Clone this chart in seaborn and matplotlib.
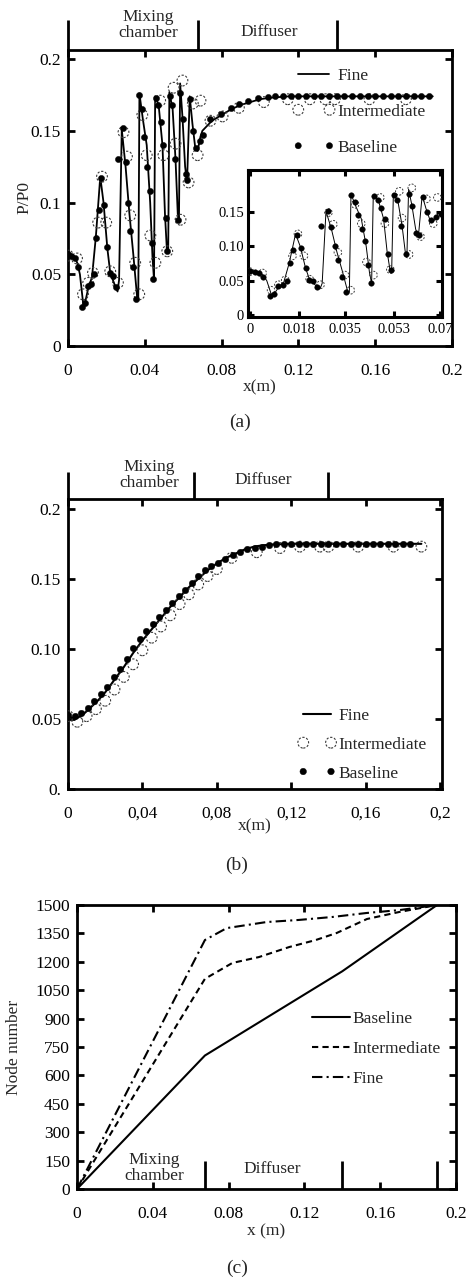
import matplotlib
matplotlib.use("Agg")
import matplotlib.pyplot as plt
import seaborn as sns

sns.set_theme(style="ticks")
plt.rcParams["font.family"] = ["Liberation Serif", "DejaVu Serif"]
plt.rcParams["axes.unicode_minus"] = False

# ---------------- (a) static pressure ratio, oscillating case ----------------
fine_a_x = [0.000, 0.003, 0.0048, 0.0062, 0.0082, 0.0105, 0.0125, 0.0145, 0.0168, 0.0185,
            0.0205, 0.022, 0.0245, 0.0258, 0.0266, 0.0280, 0.0300, 0.0320, 0.0340, 0.0360,
            0.0366, 0.0372, 0.0390, 0.0410, 0.0428, 0.0440, 0.0448, 0.0454, 0.0472, 0.0492,
            0.0505, 0.0515, 0.0522, 0.0528, 0.0545, 0.0560, 0.0572, 0.0578, 0.0584, 0.0596,
            0.0610, 0.0620, 0.0634, 0.0648, 0.0662, 0.0675, 0.0690, 0.0700, 0.0750, 0.0800,
            0.0850, 0.0900, 0.0950, 0.1000, 0.1050, 0.1100, 0.1150, 0.1200, 0.1900]
fine_a_y = [0.064, 0.063, 0.058, 0.050, 0.026, 0.040, 0.048, 0.076, 0.118, 0.100,
            0.068, 0.051, 0.042, 0.038, 0.046, 0.151, 0.125, 0.092, 0.064, 0.034,
            0.033, 0.176, 0.158, 0.140, 0.100, 0.062, 0.046, 0.174, 0.168, 0.140,
            0.092, 0.067, 0.068, 0.177, 0.165, 0.130, 0.091, 0.088, 0.183, 0.160,
            0.125, 0.114, 0.174, 0.155, 0.139, 0.136, 0.146, 0.150, 0.157, 0.161,
            0.165, 0.168, 0.170, 0.172, 0.173, 0.1735, 0.174, 0.174, 0.174]

int_a_x = [0.000, 0.0047, 0.0078, 0.0105, 0.013, 0.0157, 0.0177, 0.0199, 0.022, 0.026,
           0.0289, 0.0307, 0.0324, 0.035, 0.0371, 0.0387, 0.041, 0.0429, 0.0455, 0.048,
           0.0497, 0.0517, 0.055, 0.056, 0.0586, 0.0596, 0.0628, 0.065, 0.0675, 0.069,
           0.0742, 0.0805, 0.089, 0.102, 0.1145, 0.126, 0.134, 0.139, 0.157, 0.176]
int_a_y = [0.063, 0.061, 0.036, 0.044, 0.051, 0.086, 0.118, 0.086, 0.052, 0.044,
           0.149, 0.132, 0.091, 0.058, 0.036, 0.161, 0.133, 0.077, 0.058, 0.171,
           0.133, 0.066, 0.180, 0.141, 0.088, 0.185, 0.114, 0.169, 0.133, 0.171,
           0.157, 0.160, 0.166, 0.170, 0.172, 0.172, 0.172, 0.172, 0.172, 0.172]

base_a_x = [0.000, 0.0018, 0.0035, 0.0050, 0.0075, 0.0090, 0.0105, 0.0120, 0.0135, 0.0148,
            0.0160, 0.0172, 0.0188, 0.0205, 0.0218, 0.0232, 0.0248, 0.0262, 0.0287, 0.0300,
            0.0312, 0.0325, 0.0338, 0.0355, 0.0372, 0.0385, 0.0398, 0.0412, 0.0425, 0.0435,
            0.0445, 0.0458, 0.0470, 0.0482, 0.0496, 0.0508, 0.0518, 0.0530, 0.0543, 0.0556,
            0.0575, 0.0585, 0.0598, 0.0612, 0.0622, 0.0636, 0.0650, 0.0665, 0.0685, 0.0705,
            0.0738, 0.0795, 0.0850, 0.0890, 0.0937, 0.0990, 0.1040, 0.1080, 0.1120, 0.1160,
            0.1200, 0.1240, 0.1280, 0.1320, 0.1360, 0.1400, 0.1440, 0.1480, 0.1520, 0.1560,
            0.1600, 0.1640, 0.1680, 0.1720, 0.1760, 0.1800, 0.1840, 0.1880]
base_a_y = [0.064, 0.063, 0.061, 0.055, 0.027, 0.030, 0.042, 0.043, 0.050, 0.075,
            0.095, 0.117, 0.098, 0.069, 0.051, 0.049, 0.041, 0.130, 0.152, 0.128,
            0.100, 0.080, 0.055, 0.033, 0.175, 0.165, 0.146, 0.125, 0.108, 0.072,
            0.047, 0.173, 0.168, 0.156, 0.140, 0.089, 0.066, 0.174, 0.168, 0.130,
            0.088, 0.176, 0.158, 0.120, 0.116, 0.172, 0.150, 0.138, 0.143, 0.147,
            0.158, 0.162, 0.166, 0.169, 0.171, 0.173, 0.1735, 0.1745, 0.1745, 0.1745,
            0.1745, 0.1745, 0.1745, 0.1745, 0.1745, 0.1745, 0.1745, 0.1745, 0.1745, 0.1745,
            0.1745, 0.1745, 0.1745, 0.1745, 0.1745, 0.1745, 0.1745, 0.1745]

# ---------------- (b) static pressure ratio, steady case ----------------
fine_b_x = [0.000, 0.004, 0.008, 0.012, 0.016, 0.020, 0.025, 0.030, 0.035, 0.040,
            0.045, 0.050, 0.055, 0.060, 0.065, 0.070, 0.075, 0.080, 0.085, 0.090,
            0.095, 0.100, 0.105, 0.110, 0.120, 0.190]
fine_b_y = [0.052, 0.050, 0.053, 0.058, 0.063, 0.069, 0.078, 0.087, 0.097, 0.106,
            0.114, 0.122, 0.130, 0.137, 0.144, 0.150, 0.156, 0.161, 0.165, 0.168,
            0.171, 0.173, 0.174, 0.1745, 0.175, 0.175]

int_b_x = [0.000, 0.005, 0.010, 0.015, 0.020, 0.025, 0.030, 0.035, 0.040, 0.045,
           0.050, 0.055, 0.060, 0.065, 0.070, 0.075, 0.080, 0.088, 0.1015, 0.114,
           0.1247, 0.1355, 0.140, 0.156, 0.175, 0.190]
int_b_y = [0.052, 0.048, 0.052, 0.057, 0.063, 0.071, 0.080, 0.089, 0.099, 0.108,
           0.116, 0.124, 0.132, 0.139, 0.146, 0.152, 0.157, 0.165, 0.169, 0.172,
           0.173, 0.173, 0.173, 0.173, 0.173, 0.173]

base_b_x = [0.000, 0.0035, 0.007, 0.0105, 0.014, 0.0175, 0.021, 0.0245, 0.028, 0.0315,
            0.035, 0.0385, 0.042, 0.0455, 0.049, 0.0525, 0.056, 0.0595, 0.063, 0.0665,
            0.070, 0.0735, 0.077, 0.0805, 0.0845, 0.0885, 0.0925, 0.0965, 0.1005, 0.1045,
            0.108, 0.112, 0.116, 0.120, 0.124, 0.128, 0.132, 0.136, 0.140, 0.144,
            0.148, 0.152, 0.156, 0.160, 0.164, 0.168, 0.172, 0.176, 0.180, 0.184]
base_b_y = [0.053, 0.052, 0.054, 0.058, 0.063, 0.068, 0.073, 0.080, 0.086, 0.093,
            0.101, 0.107, 0.113, 0.118, 0.123, 0.128, 0.133, 0.138, 0.142, 0.147,
            0.152, 0.156, 0.159, 0.161, 0.164, 0.167, 0.169, 0.171, 0.172, 0.173,
            0.1745, 0.175, 0.175, 0.175, 0.175, 0.175, 0.175, 0.175, 0.175, 0.175,
            0.175, 0.175, 0.175, 0.175, 0.175, 0.175, 0.175, 0.175, 0.175, 0.175]

# ---------------- (c) cumulative node distribution along x ----------------
base_c_x = [0.0, 0.0675, 0.14, 0.19]
base_c_y = [0, 705, 1150, 1500]
int_c_x = [0.0, 0.0675, 0.082, 0.096, 0.112, 0.126, 0.137, 0.153, 0.170, 0.19]
int_c_y = [0, 1110, 1194, 1225, 1278, 1315, 1352, 1426, 1463, 1500]
fine_c_x = [0.0, 0.0675, 0.079, 0.100, 0.117, 0.135, 0.153, 0.170, 0.19]
fine_c_y = [0, 1315, 1378, 1410, 1421, 1437, 1458, 1473, 1500]

# geometry sections (m)
section_bounds = [0.0, 0.0675, 0.14]
section_bounds_c = [0.0675, 0.14, 0.19]
section_names = ["Mixing\nchamber", "Diffuser"]

x_ticks = [0.0, 0.04, 0.08, 0.12, 0.16, 0.2]
x_labels_dot = ["0", "0.04", "0.08", "0.12", "0.16", "0.2"]
x_labels_comma = ["0", "0,04", "0,08", "0,12", "0,16", "0,2"]
p_ticks = [0.0, 0.05, 0.10, 0.15, 0.2]
p_labels_a = ["0", "0.05", "0.1", "0.15", "0.2"]
p_labels_b = ["0.", "0.05", "0.10", "0.15", "0.2"]
inset_x_ticks = [0.0, 0.018, 0.035, 0.053, 0.07]
inset_x_labels = ["0", "0.018", "0.035", "0.053", "0.07"]
inset_y_ticks = [0.0, 0.05, 0.10, 0.15]
inset_y_labels = ["0", "0.05", "0.10", "0.15"]
node_ticks = list(range(0, 1501, 150))

FS = 12.5
W, H = 471, 1281
fig = plt.figure(figsize=(W / 100, H / 100), dpi=100)
fig.patch.set_facecolor("white")


def px_axes(left, top, right, bottom):
    return fig.add_axes([left / W, 1 - bottom / H, (right - left) / W, (bottom - top) / H])


def style_frame(ax, lw=2.0, length=5, labelsize=FS, xpad=12, ypad=5):
    for sp in ax.spines.values():
        sp.set_visible(True)
        sp.set_linewidth(lw)
        sp.set_color("black")
    ax.tick_params(axis="both", which="major", direction="in", top=True, right=True,
                   width=lw, length=length, color="black", labelcolor="black",
                   labelsize=labelsize)
    ax.tick_params(axis="x", pad=xpad)
    ax.tick_params(axis="y", pad=ypad)
    ax.set_facecolor("white")
    ax.grid(False)


def open_circles(ax, x, y, s, lw=0.8):
    sns.scatterplot(x=x, y=y, marker="o", s=s, facecolor="none", edgecolor="#3a3a3a",
                    linewidth=lw, linestyle=(0, (2, 1.5)), ax=ax, zorder=3)
    return ax.collections[-1]


def filled_circles(ax, x, y, s):
    sns.scatterplot(x=x, y=y, marker="o", s=s, color="black", edgecolor="black",
                    linewidth=0.3, ax=ax, zorder=4)
    return ax.collections[-1]


def section_header(ax, text_y, line_top, name_x):
    trans = ax.get_xaxis_transform()
    for b in section_bounds:
        ax.plot([b, b], [1.0, line_top], transform=trans, color="black", lw=2.0,
                clip_on=False, solid_capstyle="butt")
    ax.text(name_x[0], text_y[0], section_names[0], transform=trans, ha="center",
            va="center", fontsize=FS, linespacing=1.05)
    ax.text(name_x[1], text_y[1], section_names[1], transform=trans, ha="center",
            va="center", fontsize=FS)


# ---------------- panel (a) ----------------
ax_a = px_axes(68, 50, 452, 346)
sns.lineplot(x=fine_a_x, y=fine_a_y, estimator=None, sort=False, color="black",
             linewidth=1.3, ax=ax_a)
fine_a_line = ax_a.lines[-1]
int_a_pts = open_circles(ax_a, int_a_x, int_a_y, 60)
base_a_pts = filled_circles(ax_a, base_a_x, base_a_y, 20)
ax_a.set_xlim(0, 0.2)
ax_a.set_ylim(0, 0.2063)
ax_a.set_xticks(x_ticks, x_labels_dot)
ax_a.set_yticks(p_ticks, p_labels_a)
style_frame(ax_a)
ax_a.set_xlabel("x(m)", fontsize=FS)
ax_a.set_ylabel("P/P0", fontsize=FS)
ax_a.xaxis.set_label_coords(0.5, -0.112)
ax_a.yaxis.set_label_coords(-0.092, 0.5)
section_header(ax_a, text_y=(1.084, 1.061), line_top=1.101, name_x=(0.042, 0.1046))
ax_a.legend([fine_a_line, int_a_pts, base_a_pts], ["Fine", "Intermediate", "Baseline"],
            loc="upper left", bbox_to_anchor=(0.586, 0.94), frameon=False,
            numpoints=2, scatterpoints=2, scatteryoffsets=[0.5], handlelength=2.4,
            handletextpad=0.15, labelspacing=1.14, borderpad=0, borderaxespad=0,
            fontsize=FS)

# inset: close-up of the mixing chamber
ax_in = px_axes(248, 170, 442, 317)
ax_in.set_zorder(5)
sns.lineplot(x=fine_a_x, y=fine_a_y, estimator=None, sort=False, color="black",
             linewidth=0.7, ax=ax_in)
open_circles(ax_in, int_a_x, int_a_y, 30, lw=0.7)
filled_circles(ax_in, base_a_x, base_a_y, 16)
ax_in.set_xlim(-0.0007, 0.0707)
ax_in.set_ylim(-0.003, 0.211)
ax_in.set_xticks(inset_x_ticks, inset_x_labels)
ax_in.set_yticks(inset_y_ticks, inset_y_labels)
style_frame(ax_in, lw=2.2, length=4, labelsize=10.5, xpad=4, ypad=3)
ax_in.set_xlabel("")
ax_in.set_ylabel("")

# ---------------- panel (b) ----------------
ax_b = px_axes(68, 499, 442, 789)
sns.lineplot(x=fine_b_x, y=fine_b_y, estimator=None, sort=False, color="black",
             linewidth=1.5, ax=ax_b)
fine_b_line = ax_b.lines[-1]
int_b_pts = open_circles(ax_b, int_b_x, int_b_y, 60)
base_b_pts = filled_circles(ax_b, base_b_x, base_b_y, 22)
ax_b.set_xlim(0, 0.2011)
ax_b.set_ylim(0, 0.207)
ax_b.set_xticks(x_ticks, x_labels_comma)
ax_b.set_yticks(p_ticks, p_labels_b)
style_frame(ax_b)
ax_b.set_xlabel("x(m)", fontsize=FS)
ax_b.set_ylabel("")
ax_b.xaxis.set_label_coords(0.5, -0.1)
section_header(ax_b, text_y=(1.083, 1.066), line_top=1.093, name_x=(0.0435, 0.105))
ax_b.legend([fine_b_line, int_b_pts, base_b_pts], ["Fine", "Intermediate", "Baseline"],
            loc="upper left", bbox_to_anchor=(0.615, 0.28), frameon=False,
            numpoints=2, scatterpoints=2, scatteryoffsets=[0.5], handlelength=2.2,
            handletextpad=0.15, labelspacing=0.73, borderpad=0, borderaxespad=0,
            fontsize=FS)

# ---------------- panel (c) ----------------
ax_c = px_axes(77, 905, 456, 1189)
sns.lineplot(x=base_c_x, y=base_c_y, estimator=None, sort=False, color="black",
             linewidth=1.5, ax=ax_c, label="Baseline")
sns.lineplot(x=int_c_x, y=int_c_y, estimator=None, sort=False, color="black",
             linewidth=1.5, linestyle=(0, (3, 2)), ax=ax_c, label="Intermediate")
sns.lineplot(x=fine_c_x, y=fine_c_y, estimator=None, sort=False, color="black",
             linewidth=1.5, linestyle=(0, (5, 2, 1, 2)), ax=ax_c, label="Fine")
ax_c.set_xlim(0, 0.2)
ax_c.set_ylim(0, 1500)
ax_c.set_xticks(x_ticks, x_labels_dot)
ax_c.set_yticks(node_ticks, [str(v) for v in node_ticks])
style_frame(ax_c)
ax_c.set_xlabel("x (m)", fontsize=FS)
ax_c.set_ylabel("Node number", fontsize=FS)
ax_c.xaxis.set_label_coords(0.5, -0.12)
ax_c.yaxis.set_label_coords(-0.145, 0.5)
for b in section_bounds_c:
    ax_c.plot([b, b], [0, 150], color="black", lw=2.0, clip_on=False,
              solid_capstyle="butt")
ax_c.text(0.041, 111, section_names[0], ha="center", va="center", fontsize=FS,
          linespacing=1.05)
ax_c.text(0.103, 106, section_names[1], ha="center", va="center", fontsize=FS)
ax_c.legend(loc="upper left", bbox_to_anchor=(0.62, 0.627), frameon=False,
            handlelength=2.2, handletextpad=0.15, labelspacing=0.8, borderpad=0,
            borderaxespad=0, fontsize=FS)

# panel captions
fig.text(240 / W, 1 - 422 / H, "(a)", ha="center", va="center", fontsize=14)
fig.text(237 / W, 1 - 865 / H, "(b)", ha="center", va="center", fontsize=14)
fig.text(237 / W, 1 - 1268 / H, "(c)", ha="center", va="center", fontsize=14)

fig.savefig("out.png", dpi=100, facecolor="white")
